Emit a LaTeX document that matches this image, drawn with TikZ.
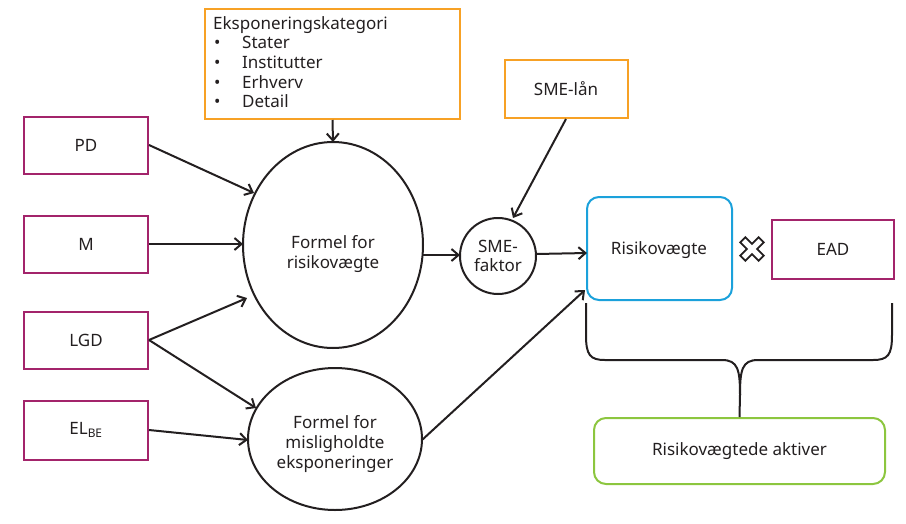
\documentclass[tikz,border=0pt]{standalone}
\usepackage{fontspec}
\setmainfont{Noto Sans}
\usetikzlibrary{arrows.meta}
\definecolor{mag}{HTML}{A3246B}
\definecolor{org}{HTML}{F7A125}
\definecolor{blu}{HTML}{1BA1DB}
\definecolor{grn}{HTML}{8CC63F}
\definecolor{txt}{HTML}{231F20}
\begin{document}
\begin{tikzpicture}[x=1pt,y=-1pt,
  every node/.style={font=\fontsize{17}{19.7}\selectfont, text=txt},
  magbox/.style={draw=mag, line width=2pt, minimum width=124pt, minimum height=57pt},
  orgbox/.style={draw=org, line width=2pt},
  arr/.style={draw=txt, line width=2pt, -{Straight Barb[length=7pt,width=12pt,line width=2pt]}},
  brace/.style={draw=txt, line width=2pt}]
\useasboundingbox (0,0) rectangle (906,523);
% input boxes
\node[magbox] (pd) at (86,145) {PD};
\node[magbox] (m) at (86,244) {M};
\node[magbox] (lgd) at (86,340) {LGD};
\node[magbox, minimum height=59pt] (el) at (86,430) {EL\textsubscript{BE}};
\node[magbox, minimum width=122pt, minimum height=59pt] (ead) at (833,249) {EAD};
% top orange box
\node[orgbox, minimum width=255pt, minimum height=110pt, anchor=north west, inner sep=0pt] (kat) at (204,8) {};
\node[anchor=north west, align=left, inner sep=0pt] (kattxt) at (213,16)
  {Eksponeringskategori\\\makebox[29pt][l]{\hspace{1pt}•}Stater\\\makebox[29pt][l]{\hspace{1pt}•}Institutter\\\makebox[29pt][l]{\hspace{1pt}•}Erhverv\\\makebox[29pt][l]{\hspace{1pt}•}Detail};
\node[orgbox, minimum width=123pt, minimum height=58pt] (sme) at (566,89) {SME-lån};
% ellipses
\draw[txt, line width=2pt] (333,245) ellipse [x radius=90, y radius=103];
\node[align=center] (f1) at (333,254) {Formel for\\risikovægte};
\coordinate (f1top) at (333,142);
\coordinate (f1r) at (423,255);
\coordinate (f1a) at (254,193);
\coordinate (f1b) at (243,244);
\coordinate (f1c) at (247,298);
\draw[txt, line width=2pt] (335,439) ellipse [x radius=87, y radius=71];
\node[align=center] (f2) at (335,444) {Formel for\\misligholdte\\eksponeringer};
\coordinate (f2a) at (256,408);
\coordinate (f2b) at (248,440);
\coordinate (f2r) at (422,440);
% SME faktor circle
\draw[txt, line width=2pt] (498,256) circle [radius=38];
\node[align=center] (smef) at (498,256) {SME-\\faktor};
\coordinate (smel) at (460,255);
\coordinate (smet) at (513,218);
\coordinate (smer) at (536,254);
% Risikovaegte
\node[draw=blu, line width=2pt, rounded corners=12pt, minimum width=145pt, minimum height=103pt] (rv) at (659.5,248.5) {};
\node (rvt) at (659,250) {Risikovægte};
\coordinate (rvl) at (587,253);
\coordinate (rvc) at (585,290);
% X mark
\begin{scope}[shift={(752,249)}, rotate=45]
\draw[txt, line width=1.8pt, fill=white, line join=miter]
  (3.6,3.6) -- (13,3.6) -- (13,-3.6) -- (3.6,-3.6) -- (3.6,-13) -- (-3.6,-13) -- (-3.6,-3.6)
  -- (-13,-3.6) -- (-13,3.6) -- (-3.6,3.6) -- (-3.6,13) -- (3.6,13) -- cycle;
\end{scope}
% result
\node[draw=grn, line width=2pt, rounded corners=12pt, minimum width=291pt, minimum height=66pt] (ra) at (739.5,451) {Risikovægtede aktiver};
% arrows
\draw[arr] (pd.east) -- (f1a);
\draw[arr] (m.east) -- (f1b);
\draw[arr] (lgd.east) -- (f1c);
\draw[arr] (lgd.east) -- (f2a);
\draw[arr] (el.east) -- (f2b);
\draw[arr] (kat.south) -- (f1top);
\draw[arr] (f1r) -- (smel);
\draw[arr] (sme.south) -- (smet);
\draw[arr] (smer) -- (rvl);
\draw[arr] (f2r) -- (rvc);
% brace
\coordinate (bl) at (586,303);
\coordinate (br) at (892,303);
\draw[brace] (bl) -- (586,335) .. controls (586,355) and (590,360) .. (605,360) -- (722,360)
  .. controls (738,360) and (740,370) .. (740,395) -- (ra.north);
\draw[brace] (br) -- (892,335) .. controls (892,355) and (888,360) .. (873,360) -- (758,360)
  .. controls (742,360) and (740,370) .. (740,395);
\end{tikzpicture}
\end{document}
